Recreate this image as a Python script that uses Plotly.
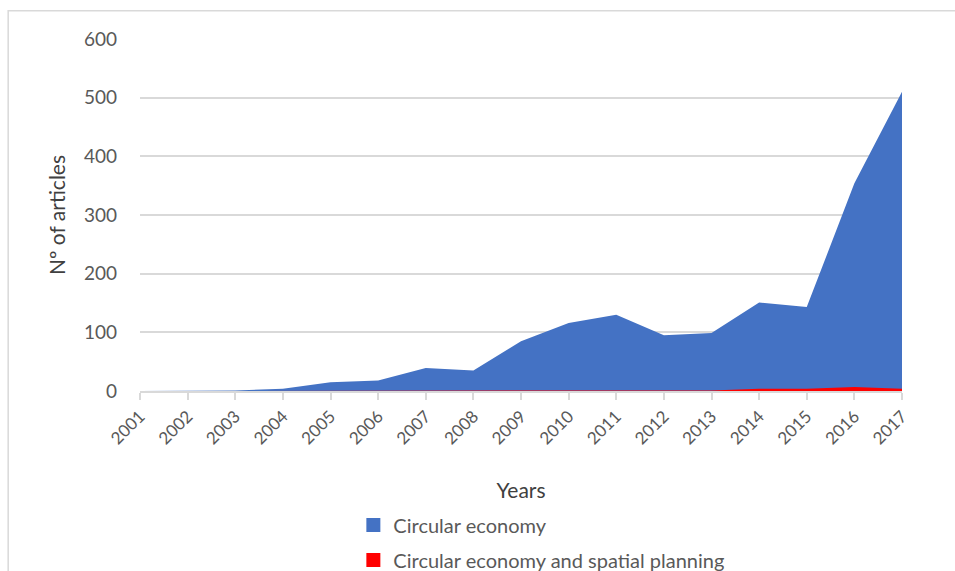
import plotly.graph_objects as go

years = list(range(2001, 2018))
circular_economy = [0, 0, 1, 4, 15, 18, 39, 35, 85, 116, 130, 95, 99, 151, 143, 354, 510]
ce_spatial_planning = [0, 0, 0, 0, 0, 0, 0, 0, 0, 0, 0, 0, 1, 4, 4, 7, 4]
y_ticks = [0, 100, 200, 300, 400, 500, 600]

BLUE = "#4472C4"
RED = "#FF0000"
TEXT = "#595959"
FONT = "Lato, 'Open Sans', sans-serif"

fig = go.Figure()

fig.add_trace(go.Scatter(
    x=years, y=circular_economy, mode="lines", fill="tozeroy",
    line=dict(width=0, color=BLUE), fillcolor=BLUE,
    name="Circular economy", showlegend=False, hoverinfo="x+y",
))
fig.add_trace(go.Scatter(
    x=years, y=ce_spatial_planning, mode="lines", fill="tozeroy",
    line=dict(width=0, color=RED), fillcolor=RED,
    name="Circular economy and spatial planning", showlegend=False, hoverinfo="x+y",
))

# square legend keys
for name, color in [("Circular economy", BLUE),
                    ("Circular economy and spatial planning", RED)]:
    fig.add_trace(go.Scatter(
        x=[None], y=[None], mode="markers", name=name, legendgroup=name,
        marker=dict(symbol="square", size=14, color=color),
    ))

fig.update_layout(
    width=955, height=571,
    margin=dict(l=140, r=53, t=39, b=180, autoexpand=False),
    paper_bgcolor="white", plot_bgcolor="white",
    font=dict(family=FONT, color=TEXT),
    legend=dict(
        x=0.28, y=-0.325, xanchor="left", yanchor="top",
        orientation="v", font=dict(size=20, color=TEXT),
        itemwidth=30, tracegroupgap=6, bgcolor="rgba(0,0,0,0)",
    ),
    shapes=[dict(
        type="rect", xref="paper", yref="paper",
        x0=-0.173, x1=1.1, y0=-0.6, y1=1.08,
        line=dict(color="#D9D9D9", width=1.5), fillcolor="rgba(0,0,0,0)", layer="below",
    )],
)

fig.update_xaxes(
    range=[2001, 2017], tickmode="array", tickvals=years,
    ticktext=[str(y) for y in years], tickangle=-45, automargin=False,
    tickfont=dict(size=17, color=TEXT),
    ticks="outside", ticklen=7, tickcolor="#D9D9D9", tickwidth=1.5,
    showline=True, linecolor="#D9D9D9", linewidth=1.5,
    showgrid=False, zeroline=False,
    title=dict(text="Years", font=dict(size=21, color="#404040"), standoff=36),
)
fig.update_yaxes(
    range=[0, 600], tickvals=y_ticks, automargin=False,
    tickfont=dict(size=19, color=TEXT),
    showgrid=True, gridcolor="#D9D9D9", gridwidth=1.5,
    zeroline=False, showline=False, ticks="", ticklabelstandoff=22,
    title=dict(text="Nº of articles", font=dict(size=21, color="#404040"), standoff=12),
)

fig.write_html("out.html")
